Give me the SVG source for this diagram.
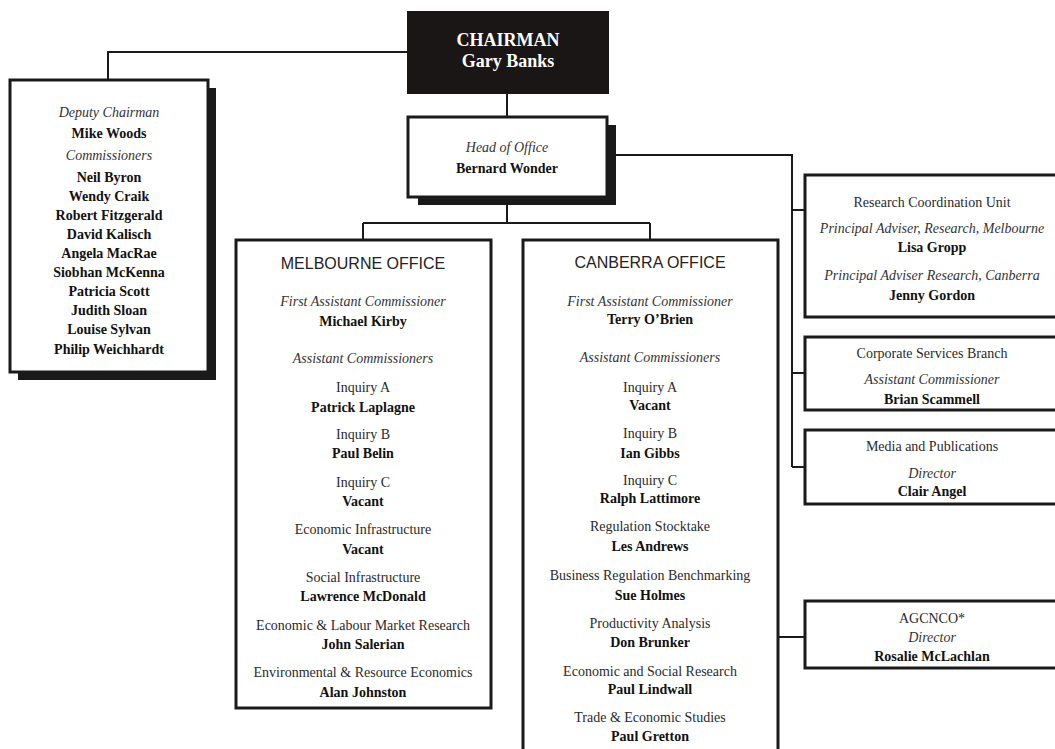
<svg xmlns="http://www.w3.org/2000/svg" width="1055" height="749" viewBox="0 0 1055 749">
<defs>
<style>
.bg{fill:#ffffff}
.box{fill:#ffffff;stroke:#1a1a1a;stroke-width:3}
.shadow{fill:#1a1a1a}
.dark{fill:#1a1616;stroke:#1a1616;stroke-width:2}
.conn{fill:none;stroke:#1a1a1a;stroke-width:2}
text{font-family:"Liberation Serif","Times New Roman",serif;font-size:14px;text-anchor:middle;fill:#2a2a2a}
.it{font-style:italic;fill:#333333}
.b{font-weight:bold;fill:#111111}
.sans{font-family:"Liberation Sans",Arial,sans-serif;font-size:16px;fill:#222222}
.wh{fill:#ffffff;font-weight:bold;font-size:18px}
</style>
</defs>
<rect class="bg" x="0" y="0" width="1055" height="749"/>

<g id="connectors">
<path class="conn" d="M408,52 H108 V80"/>
<path class="conn" d="M507,93 V117"/>
<path class="conn" d="M507,205 V223 M363,223 H650 M363,223 V240 M650,223 V240"/>
<path class="conn" d="M607,155 H792 V467 M792,210 H805 M792,373 H805 M792,467 H805"/>
<path class="conn" d="M778,637 H805"/>
</g>

<g id="chairman">
<rect class="dark" x="408" y="12" width="200" height="81"/>
<text class="wh" x="508" y="46">CHAIRMAN</text>
<text class="wh" x="508" y="67">Gary Banks</text>
</g>

<g id="deputy">
<rect class="shadow" x="18" y="88" width="198" height="292"/>
<rect class="box" x="10" y="80" width="198" height="292"/>
<text class="it" x="109" y="117">Deputy Chairman</text>
<text class="b" x="109" y="138">Mike Woods</text>
<text class="it" x="109" y="160">Commissioners</text>
<text class="b" x="109" y="182">Neil Byron</text>
<text class="b" x="109" y="201">Wendy Craik</text>
<text class="b" x="109" y="220">Robert Fitzgerald</text>
<text class="b" x="109" y="239">David Kalisch</text>
<text class="b" x="109" y="258">Angela MacRae</text>
<text class="b" x="109" y="277">Siobhan McKenna</text>
<text class="b" x="109" y="296">Patricia Scott</text>
<text class="b" x="109" y="315">Judith Sloan</text>
<text class="b" x="109" y="334">Louise Sylvan</text>
<text class="b" x="109" y="354">Philip Weichhardt</text>
</g>

<g id="head-of-office">
<rect class="shadow" x="418" y="125" width="198" height="80"/>
<rect class="box" x="408" y="117" width="199" height="80"/>
<text class="it" x="507" y="152">Head of Office</text>
<text class="b" x="507" y="173">Bernard Wonder</text>
</g>

<g id="melbourne">
<rect class="box" x="236" y="240" width="255" height="468"/>
<text class="sans" x="363" y="269">MELBOURNE OFFICE</text>
<text class="it" x="363" y="306">First Assistant Commissioner</text>
<text class="b" x="363" y="326">Michael Kirby</text>
<text class="it" x="363" y="363">Assistant Commissioners</text>
<text x="363" y="392">Inquiry A</text>
<text class="b" x="363" y="412">Patrick Laplagne</text>
<text x="363" y="439">Inquiry B</text>
<text class="b" x="363" y="458">Paul Belin</text>
<text x="363" y="487">Inquiry C</text>
<text class="b" x="363" y="506">Vacant</text>
<text x="363" y="534">Economic Infrastructure</text>
<text class="b" x="363" y="554">Vacant</text>
<text x="363" y="582">Social Infrastructure</text>
<text class="b" x="363" y="601">Lawrence McDonald</text>
<text x="363" y="630">Economic &amp; Labour Market Research</text>
<text class="b" x="363" y="649">John Salerian</text>
<text x="363" y="677">Environmental &amp; Resource Economics</text>
<text class="b" x="363" y="697">Alan Johnston</text>
</g>

<g id="canberra">
<rect class="box" x="523" y="240" width="255" height="520"/>
<text class="sans" x="650" y="268">CANBERRA OFFICE</text>
<text class="it" x="650" y="306">First Assistant Commissioner</text>
<text class="b" x="650" y="324">Terry O’Brien</text>
<text class="it" x="650" y="362">Assistant Commissioners</text>
<text x="650" y="392">Inquiry A</text>
<text class="b" x="650" y="410">Vacant</text>
<text x="650" y="438">Inquiry B</text>
<text class="b" x="650" y="458">Ian Gibbs</text>
<text x="650" y="485">Inquiry C</text>
<text class="b" x="650" y="503">Ralph Lattimore</text>
<text x="650" y="531">Regulation Stocktake</text>
<text class="b" x="650" y="551">Les Andrews</text>
<text x="650" y="580">Business Regulation Benchmarking</text>
<text class="b" x="650" y="600">Sue Holmes</text>
<text x="650" y="628">Productivity Analysis</text>
<text class="b" x="650" y="647">Don Brunker</text>
<text x="650" y="676">Economic and Social Research</text>
<text class="b" x="650" y="694">Paul Lindwall</text>
<text x="650" y="722">Trade &amp; Economic Studies</text>
<text class="b" x="650" y="741">Paul Gretton</text>
</g>

<g id="research-coordination">
<rect class="box" x="805" y="175" width="260" height="142"/>
<text x="932" y="207">Research Coordination Unit</text>
<text class="it" x="932" y="233">Principal Adviser, Research, Melbourne</text>
<text class="b" x="932" y="252">Lisa Gropp</text>
<text class="it" x="932" y="280">Principal Adviser Research, Canberra</text>
<text class="b" x="932" y="300">Jenny Gordon</text>
</g>

<g id="corporate-services">
<rect class="box" x="805" y="337" width="260" height="73"/>
<text x="932" y="358">Corporate Services Branch</text>
<text class="it" x="932" y="384">Assistant Commissioner</text>
<text class="b" x="932" y="404">Brian Scammell</text>
</g>

<g id="media-publications">
<rect class="box" x="805" y="430" width="260" height="74"/>
<text x="932" y="451">Media and Publications</text>
<text class="it" x="932" y="478">Director</text>
<text class="b" x="932" y="496">Clair Angel</text>
</g>

<g id="agcnco">
<rect class="box" x="805" y="601" width="260" height="67"/>
<text x="932" y="623">AGCNCO*</text>
<text class="it" x="932" y="642">Director</text>
<text class="b" x="932" y="661">Rosalie McLachlan</text>
</g>
</svg>
